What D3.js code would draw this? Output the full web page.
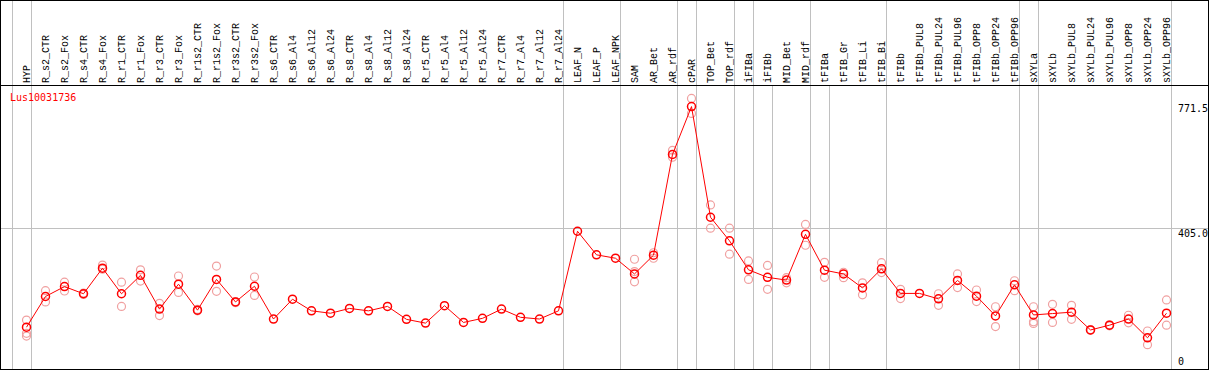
<!DOCTYPE html>
<html>
<head>
<meta charset="utf-8">
<script src="https://cdn.jsdelivr.net/npm/d3@7"></script>
<style>
  body { margin: 0; background: #fff; }
  text { font-family: 'DejaVu Sans Mono', monospace; font-size: 10px; }
  .lab { font-family: 'Liberation Mono', monospace; font-size: 10px; }
</style>
</head>
<body>
<div id="chart"></div>
<script>
const samples = ['HYP', 'R_s2_CTR', 'R_s2_Fox', 'R_s4_CTR', 'R_s4_Fox', 'R_r1_CTR', 'R_r1_Fox',
  'R_r3_CTR', 'R_r3_Fox', 'R_r1s2_CTR', 'R_r1s2_Fox', 'R_r3s2_CTR', 'R_r3s2_Fox',
  'R_s6_CTR', 'R_s6_Al4', 'R_s6_Al12', 'R_s6_Al24', 'R_s8_CTR', 'R_s8_Al4', 'R_s8_Al12', 'R_s8_Al24',
  'R_r5_CTR', 'R_r5_Al4', 'R_r5_Al12', 'R_r5_Al24', 'R_r7_CTR', 'R_r7_Al4', 'R_r7_Al12', 'R_r7_Al24',
  'LEAF_N', 'LEAF_P', 'LEAF_NPK', 'SAM', 'AR_Bet', 'AR_rdf', 'cPAR', 'TOP_Bet', 'TOP_rdf',
  'iFIBa', 'iFIBb', 'MID_Bet', 'MID_rdf', 'tFIBa', 'tFIB_Gr', 'tFIB_Li', 'tFIB_Bi', 'tFIBb',
  'tFIBb_PUL8', 'tFIBb_PUL24', 'tFIBb_PUL96', 'tFIBb_OPP8', 'tFIBb_OPP24', 'tFIBb_OPP96',
  'sXYLa', 'sXYLb', 'sXYLb_PUL8', 'sXYLb_PUL24', 'sXYLb_PUL96', 'sXYLb_OPP8', 'sXYLb_OPP24', 'sXYLb_OPP96'];

// mean expression per sample
const means = [115, 205, 234, 213, 288, 213, 267, 168, 241, 165, 255, 189, 235,
  139, 197, 163, 156, 170, 163, 176, 138, 127, 178, 129, 141, 168, 144, 139, 163,
  396, 327, 317, 271, 326, 621, 761, 437, 368, 283, 261, 253, 387, 282, 271, 230, 286,
  214, 214, 198, 252, 206, 148, 239, 151, 155, 159, 107, 121, 139, 84, 156];

// individual replicates
const replicates = [[136, 97, 89], [222, 189], [247, 221], [215, 211], [297, 285], [247, 176],
  [283, 250], [185, 149], [265, 217], [167, 163], [294, 220], [190, 187], [262, 208],
  [], [], [], [], [], [], [], [], [], [], [], [], [], [], [], [],
  [], [], [], [314, 278, 248], [333, 317], [633, 613], [785, 741], [473, 405], [405, 329],
  [309, 255], [296, 226], [260, 245], [416, 355], [305, 261], [276, 260], [245, 210], [304, 275],
  [226, 199], [], [213, 179], [271, 231], [224, 190], [175, 117], [251, 222], [175, 131, 126],
  [182, 129], [179, 138], [108, 106], [122, 119], [150, 128], [104, 64], [195, 121]];

const yTicks = [0, 405.0, 771.5];
const geneName = 'Lus10031736';

// index of the last sample in each group
const plotBreaks = [-1, 0, 28, 31, 34, 35, 37, 38, 39, 41, 42, 45, 52, 53, 60];
const headBreaks = [-1, 0, 28, 31, 34, 35, 37, 38, 41, 45, 52, 53, 60];

const width = 1209, height = 370, headH = 85;

let svg = d3.select('#chart').append('svg')
  .attr('width', width)
  .attr('height', height);

let x = d3.scaleLinear().domain([0, samples.length - 1]).range([26.5, 1166.5]);
let y = d3.scaleLinear().domain([0, 771.5]).range([366.5, 103]);

// grid lines
svg.append('g').selectAll('line.hg')
  .data(headBreaks)
  .join('line')
    .attr('x1', d => Math.round(x(d)) + 4.5)
    .attr('x2', d => Math.round(x(d)) + 4.5)
    .attr('y1', 0).attr('y2', headH)
    .attr('stroke', '#c0c0c0');

svg.append('g').selectAll('line.pg')
  .data(plotBreaks)
  .join('line')
    .attr('x1', d => Math.round(x(d)) + 4.5)
    .attr('x2', d => Math.round(x(d)) + 4.5)
    .attr('y1', headH).attr('y2', height)
    .attr('stroke', '#c0c0c0');

svg.append('line')
  .attr('x1', 0).attr('x2', width)
  .attr('y1', Math.round(y(405)) + 0.5).attr('y2', Math.round(y(405)) + 0.5)
  .attr('stroke', '#c0c0c0');

// frame
svg.append('rect')
  .attr('x', 0.5).attr('y', 0.5)
  .attr('width', width - 1).attr('height', height - 1)
  .attr('fill', 'none').attr('stroke', '#000');
svg.append('line')
  .attr('x1', 0).attr('x2', width)
  .attr('y1', headH + 0.5).attr('y2', headH + 0.5)
  .attr('stroke', '#000');

// sample labels
svg.append('g').selectAll('text')
  .data(samples)
  .join('text')
    .attr('class', 'lab')
    .attr('transform', (d, i) => 'translate(' + (x(i) + 3.5) + ',' + 83 + ') rotate(-90)')
    .attr('fill', '#000')
    .text(d => d);

// y labels
svg.append('g').selectAll('text')
  .data(yTicks)
  .join('text')
    .attr('x', 1178)
    .attr('y', d => d === 0 ? 365 : y(d) + 8.5)
    .attr('fill', '#000')
    .text(d => d === 0 ? '0' : d.toFixed(1));

svg.append('text')
  .attr('x', 10).attr('y', 101)
  .attr('fill', '#ff0000')
  .text(geneName);

// replicates
let reps = [];
replicates.forEach((r, i) => r.forEach(v => reps.push({i: i, v: v})));
svg.append('g').selectAll('circle')
  .data(reps)
  .join('circle')
    .attr('cx', d => x(d.i))
    .attr('cy', d => y(d.v))
    .attr('r', 4)
    .attr('fill', 'none')
    .attr('stroke', '#f0a0a0')
    .attr('stroke-width', 1.2);

let line = d3.line()
  .x((d, i) => x(i))
  .y(d => y(d));

svg.append('path')
  .datum(means)
  .attr('fill', 'none')
  .attr('stroke', '#ff0000')
  .attr('stroke-width', 1)
  .attr('d', line);

svg.append('g').selectAll('circle')
  .data(means)
  .join('circle')
    .attr('cx', (d, i) => x(i))
    .attr('cy', d => y(d))
    .attr('r', 4)
    .attr('fill', 'none')
    .attr('stroke', '#ff0000')
    .attr('stroke-width', 1.5);
</script>
</body>
</html>
